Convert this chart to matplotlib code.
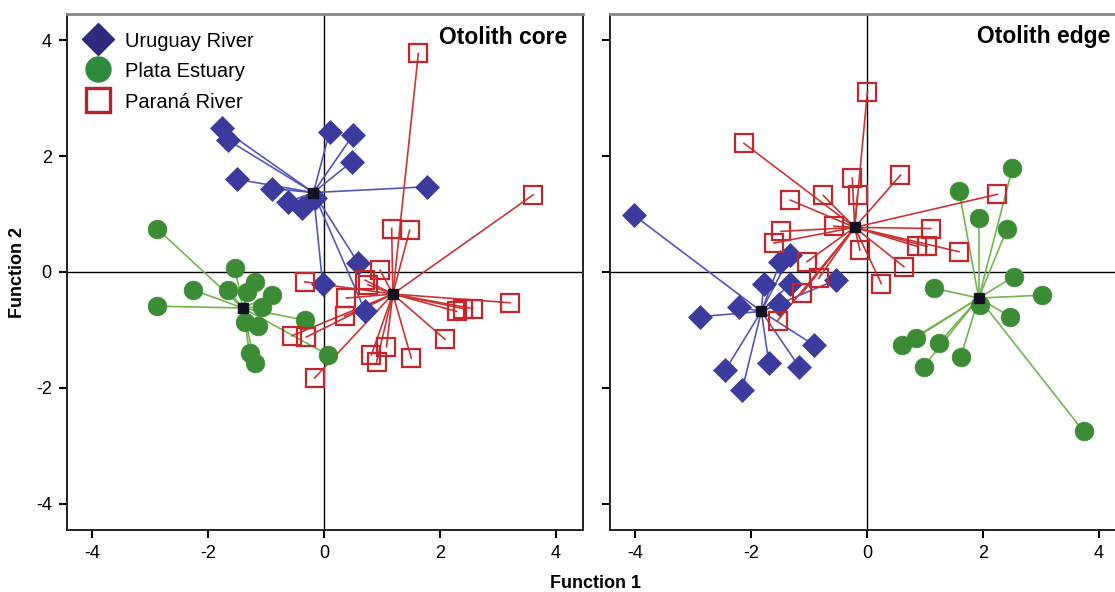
import matplotlib
matplotlib.use("Agg")
import matplotlib.pyplot as plt
from matplotlib.lines import Line2D
from matplotlib import font_manager

plt.rcParams['font.family'] = ['Liberation Sans', 'DejaVu Sans']
names = {f.name for f in font_manager.fontManager.ttflist}
narrow = ['Liberation Sans Narrow', 'Liberation Sans'] if 'Liberation Sans Narrow' in names else ['Liberation Sans']

# ---------------- data ----------------
panel_titles = ["Otolith core", "Otolith edge"]
group_names = ["Uruguay River", "Plata Estuary", "Paraná River"]
x_ticks = [-4, -2, 0, 2, 4]
y_ticks = [-4, -2, 0, 2, 4]

# Otolith core
core_uru_x = [-1.76, -1.66, -1.50, -0.90, -0.61, -0.38, 0.10, 0.50, 0.48, 1.78, 0.59, -0.02, 0.71, -0.15]
core_uru_y = [2.48, 2.28, 1.60, 1.44, 1.21, 1.10, 2.42, 2.36, 1.90, 1.47, 0.16, -0.21, -0.67, 1.28]
core_uru_c = (-0.18, 1.37)

core_pla_x = [-2.88, -2.25, -2.88, -1.53, -1.19, -1.65, -0.90, -1.07, -1.36, -1.13, -0.33, 0.07, -1.28, -1.19, -1.32]
core_pla_y = [0.75, -0.31, -0.59, 0.07, -0.17, -0.31, -0.40, -0.60, -0.86, -0.94, -0.83, -1.43, -1.40, -1.57, -0.35]
core_pla_c = (-1.40, -0.62)

core_par_x = [1.63, 3.61, 1.17, 1.48, 0.97, -0.33, 0.71, 0.76, 0.39, 0.36, 3.21, 2.29, 2.40, 2.57,
              2.09, 1.51, 1.08, 0.82, 0.91, -0.30, -0.55, -0.16]
core_par_y = [3.77, 1.33, 0.75, 0.72, 0.03, -0.17, -0.14, -0.22, -0.45, -0.76, -0.53, -0.68, -0.63, -0.63,
              -1.16, -1.49, -1.29, -1.43, -1.55, -1.12, -1.10, -1.83]
core_par_c = (1.19, -0.38)

# Otolith edge
edge_uru_x = [-4.02, -2.87, -2.21, -2.44, -2.15, -1.69, -1.17, -0.91, -1.78, -1.32, -1.49, -1.32, -0.54, -1.52]
edge_uru_y = [0.98, -0.77, -0.60, -1.69, -2.03, -1.57, -1.63, -1.26, -0.20, -0.20, 0.18, 0.29, -0.14, -0.55]
edge_uru_c = (-1.82, -0.68)

edge_pla_x = [1.59, 2.51, 1.93, 2.42, 1.16, 2.53, 3.02, 2.47, 1.95, 0.61, 0.84, 1.24, 0.98, 1.62, 3.74]
edge_pla_y = [1.40, 1.79, 0.93, 0.75, -0.28, -0.08, -0.40, -0.77, -0.57, -1.26, -1.14, -1.23, -1.63, -1.46, -2.75]
edge_pla_c = (1.93, -0.45)

edge_par_x = [0.01, -2.12, -0.25, -0.16, -0.75, -1.32, -0.57, -1.48, -1.60, -0.12, -1.03, -0.83, -1.12, -1.54,
              0.58, 2.25, 1.10, 0.87, 1.04, 1.59, 0.64, 0.25]
edge_par_y = [3.11, 2.22, 1.62, 1.33, 1.32, 1.24, 0.79, 0.70, 0.50, 0.38, 0.18, -0.11, -0.37, -0.84,
              1.67, 1.34, 0.75, 0.44, 0.44, 0.35, 0.09, -0.20]
edge_par_c = (-0.21, 0.77)

panels = [
    [(core_uru_x, core_uru_y, core_uru_c), (core_pla_x, core_pla_y, core_pla_c), (core_par_x, core_par_y, core_par_c)],
    [(edge_uru_x, edge_uru_y, edge_uru_c), (edge_pla_x, edge_pla_y, edge_pla_c), (edge_par_x, edge_par_y, edge_par_c)],
]

# ---------------- styles ----------------
styles = [
    dict(marker='D', ms=12.5, mfc='#3b3b9d', mec='#3b3b9d', mew=0.5, line='#5656b8'),
    dict(marker='o', ms=13.5, mfc='#3c8c36', mec='#3c8c36', mew=0.5, line='#72b650'),
    dict(marker='s', ms=12.5, mfc='none', mec='#c4262c', mew=1.6, line='#cc3535'),
]

fig = plt.figure(figsize=(11.15, 5.92), dpi=100)
W, H = 1115, 592
ax_px = [(67, 14, 516, 516), (610, 14, 516, 516)]
axes = []
for (l, t, w, h) in ax_px:
    axes.append(fig.add_axes([l / W, 1 - (t + h) / H, w / W, h / H]))

for pi, ax in enumerate(axes):
    ax.set_xlim(-4.43, 4.47)
    ax.set_ylim(-4.45, 4.45)
    ax.axhline(0, color='black', lw=1.0, zorder=1)
    ax.axvline(0, color='black', lw=1.0, zorder=1)
    order = [0, 1, 2]
    for gi in order:
        xs, ys, c = panels[pi][gi]
        st = styles[gi]
        for x, y in zip(xs, ys):
            ax.plot([c[0], x], [c[1], y], color=st['line'], lw=1.2, zorder=2)
    for gi in order:
        xs, ys, c = panels[pi][gi]
        st = styles[gi]
        ax.plot(xs, ys, linestyle='none', marker=st['marker'], ms=st['ms'],
                mfc=st['mfc'], mec=st['mec'], mew=st['mew'], zorder=3 + gi)
    for gi in order:
        xs, ys, c = panels[pi][gi]
        ax.plot([c[0]], [c[1]], linestyle='none', marker='s', ms=7,
                mfc='#111122', mec='#111122', zorder=10)

    ax.set_xticks(x_ticks)
    ax.set_yticks(y_ticks)
    ax.set_xticklabels([str(v) for v in x_ticks], family=narrow, fontsize=13)
    ax.tick_params(direction='out', length=6, width=1.5, colors='black', pad=5)
    for side in ['left', 'bottom', 'right']:
        ax.spines[side].set_color('#222222')
        ax.spines[side].set_linewidth(1.4)
    ax.spines['top'].set_color('#888888')
    ax.spines['top'].set_linewidth(2.0)
    ax.text(1 - 16 / 516, 1 - 23 / 516, panel_titles[pi], transform=ax.transAxes,
            ha='right', va='center', fontsize=16.5, fontweight='bold')

axes[0].set_yticklabels([str(v) for v in y_ticks], family=narrow, fontsize=13)
axes[1].set_yticklabels([])

fig.text(18 / W, 1 - 272 / H, "Function 2", rotation=90, ha='center', va='center',
         fontsize=13, fontweight='bold', family=narrow)
fig.text(596 / W, 1 - 583 / H, "Function 1", ha='center', va='center',
         fontsize=13, fontweight='bold', family=narrow)

handles = [
    Line2D([], [], linestyle='none', marker='D', ms=16.5, mfc='#2e2a80', mec='#2e2a80'),
    Line2D([], [], linestyle='none', marker='o', ms=18, mfc='#2e8b3e', mec='#2e8b3e'),
    Line2D([], [], linestyle='none', marker='s', ms=17, mfc='none', mec='#c0202a', mew=2.4),
]
axes[0].legend(handles, group_names, loc='upper left', frameon=False, fontsize=14.5,
               bbox_to_anchor=(15 / 516, 1 - 17 / 516), handletextpad=0.55, labelspacing=0.52,
               borderaxespad=0.0, borderpad=0.0, handlelength=1.6, handleheight=1.0)

fig.savefig("out.png", dpi=100)
